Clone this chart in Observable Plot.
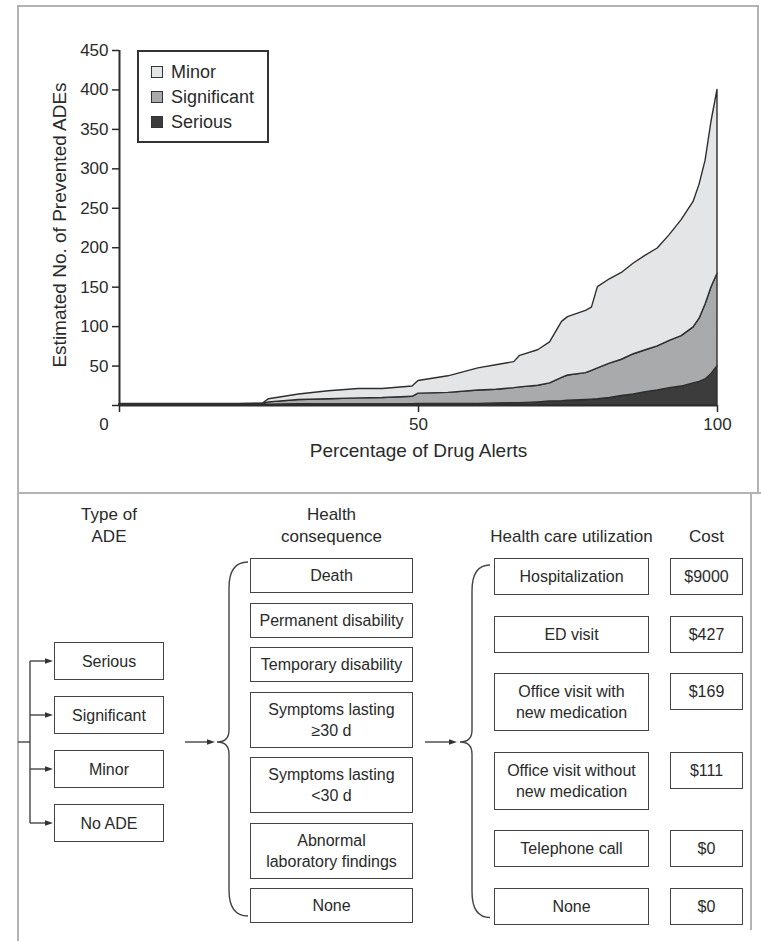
<!DOCTYPE html>
<html><head><meta charset="utf-8">
<script src="https://cdn.jsdelivr.net/npm/d3@7"></script>
<script src="https://cdn.jsdelivr.net/npm/@observablehq/plot@0.6"></script>
<style>
html,body{margin:0;padding:0;background:#fff;}
#page{position:relative;width:761px;height:941px;overflow:hidden;font-family:"Liberation Sans",Arial,sans-serif;color:#2a2a2a;}
.fline{position:absolute;background:#b3b3b3;}
#chart{position:absolute;left:0;top:0;}
#legend{position:absolute;left:137px;top:50px;width:128px;height:89px;border:2px solid #333;background:#fff;}
.lg-row{position:absolute;left:12px;height:20px;display:flex;align-items:center;font-size:18px;white-space:nowrap;}
.lg-sw{width:10px;height:10px;border:1.5px solid #333;margin-right:8px;}
.col{position:absolute;display:flex;flex-direction:column;}
.row{display:flex;flex-direction:column;}
.box{box-sizing:border-box;border:1.8px solid #444;display:flex;align-items:center;justify-content:center;text-align:center;white-space:pre-line;font-size:16px;line-height:21px;background:#fff;}
.hdr{position:absolute;text-align:center;font-size:17px;line-height:22px;white-space:pre-line;}
#links{position:absolute;left:0;top:0;overflow:visible;}
</style></head><body><div id="page"></div>
<script>
// ---------- chart data ----------
const pct = [0,10,20,24,25,30,35,40,44,49,50,55,60,63,66,67,70,72,74,75,78,79,80,82,84,86,88,90,92,94,96,97,98,99,100];
const serious = [1,1,1,1,1,1.5,1.5,1.5,1.5,1.5,2,2,2,2.5,3,3,4,5,5.5,6,7,7.5,8,9.5,12,14,17,19,22,24,28,30,33,40,50];
const significant = [0.5,0.5,0.5,1,3,5.5,6.5,7.5,8,9.5,13,14,17,17.5,19,20,21,23,29.5,32,34,36.5,39,43.5,46,51,53,56,60,64,71,80,95,110,117];
const minor = [0.5,0.5,0.5,0.5,4,7,10,12,11.5,13,16,21,28,31,33,40,45,52,71,74,79,80,103,107,110,115,120,124,134,147,159,170,182,210,233];
const types = ["Serious","Significant","Minor"];
const typeFills = ["#3c3c3c","#a9aaac","#e4e5e7"];
const legendOrder = ["Minor","Significant","Serious"];
const yTicks = [0,50,100,150,200,250,300,350,400,450];
const xTicks = [0,50,100];
const xLabel = "Percentage of Drug Alerts";
const yLabel = "Estimated No. of Prevented ADEs";

// ---------- diagram data ----------
const headers = ["Type of\nADE","Health\nconsequence","Health care utilization","Cost"];
const adeTypes = ["Serious","Significant","Minor","No ADE"];
const consequences = ["Death","Permanent disability","Temporary disability","Symptoms lasting\n≥30 d","Symptoms lasting\n<30 d","Abnormal\nlaboratory findings","None"];
const utilization = ["Hospitalization","ED visit","Office visit with\nnew medication","Office visit without\nnew medication","Telephone call","None"];
const costs = ["$9000","$427","$169","$111","$0","$0"];

const page = document.getElementById("page");

// ---------- frame ----------
[[17,5,741,2],[17,5,2,936],[757,5,2,488],[17,492,744,2],[750,492,2,438]].forEach(([l,t,w,h])=>{
  const d=document.createElement("div");d.className="fline";
  Object.assign(d.style,{left:l+"px",top:t+"px",width:w+"px",height:h+"px"});page.appendChild(d);
});

// ---------- chart ----------
const series = {Serious: serious, Significant: significant, Minor: minor};
const rows = types.flatMap(t => pct.map((p,i)=>({pct:p, type:t, value:series[t][i]})));
const chart = Plot.plot({
  width:761, height:493, marginLeft:119, marginRight:44, marginTop:50, marginBottom:88,
  style:{fontFamily:"'Liberation Sans', Arial, sans-serif", color:"#2a2a2a", background:"transparent", overflow:"visible"},
  x:{domain:[0,100]}, y:{domain:[0,450]},
  color:{domain:types, range:typeFills},
  marks:[
    Plot.areaY(rows,{x:"pct", y:"value", z:"type", fill:"type", stroke:"#2e2e2e", strokeWidth:1.4, order:null}),
    Plot.ruleY([0],{stroke:"#2e2e2e", strokeWidth:2}),
    Plot.ruleX([0],{stroke:"#2e2e2e", strokeWidth:2}),
    Plot.axisY({ticks:yTicks, tickSize:7, tickPadding:4, tickFormat:d=>d===0?"":String(d), label:null, fontSize:17, strokeWidth:1.5}),
    Plot.axisX({ticks:xTicks, tickSize:7, tickPadding:5, tickFormat:d=>d===0?"":String(d), label:null, fontSize:17, strokeWidth:1.5}),
    Plot.text([0],{x:d=>d, y:d=>d, text:d=>String(d), dx:-15.5, dy:19, fontSize:17}),
    Plot.text([yLabel],{frameAnchor:"left", textAnchor:"middle", rotate:-90, dx:-60, dy:-3, fontSize:19, text:d=>d}),
    Plot.text([xLabel],{frameAnchor:"bottom", dy:51, fontSize:19, text:d=>d})
  ]
});
chart.id="chart";
page.appendChild(chart);

// legend
const lg=document.createElement("div");lg.id="legend";page.appendChild(lg);
legendOrder.forEach((t,i)=>{
  const r=document.createElement("div");r.className="lg-row";r.style.top=(10+25*i)+"px";
  const sw=document.createElement("div");sw.className="lg-sw";sw.style.background=typeFills[types.indexOf(t)];
  r.appendChild(sw);r.appendChild(document.createTextNode(t));lg.appendChild(r);
});

// ---------- diagram ----------
const cols = [
  {items:adeTypes, left:54, width:110, top:642, h1:38, h2:38, gap:16},
  {items:consequences, left:250, width:163, top:558, h1:35, h2:56, gap:9.5},
  {items:utilization, left:494, width:155, top:558, h1:37, h2:58, gap:20.5},
  {items:costs, left:670, width:73, top:558, h1:37, h2:37, gap:20.5, rowsFrom:utilization, rowH1:37, rowH2:58}
];
const hdrBottom = 548;
const colBoxes = cols.map((c,ci)=>{
  const h=document.createElement("div");h.className="hdr";
  const nl=headers[ci].split("\n").length;
  Object.assign(h.style,{left:(c.left-30)+"px",width:(c.width+60)+"px",top:(hdrBottom-22*nl)+"px"});
  h.textContent=headers[ci];page.appendChild(h);
  const col=document.createElement("div");col.className="col";
  Object.assign(col.style,{left:c.left+"px",top:c.top+"px",width:c.width+"px",gap:c.gap+"px"});
  page.appendChild(col);
  return c.items.map((label,i)=>{
    const b=document.createElement("div");b.className="box";b.textContent=label;
    const lines=label.split("\n").length;
    b.style.height=(lines>1?c.h2:c.h1)+"px";
    if(c.rowsFrom){
      const row=document.createElement("div");row.className="row";
      row.style.height=(c.rowsFrom[i].split("\n").length>1?c.rowH2:c.rowH1)+"px";
      row.appendChild(b);col.appendChild(row);
    } else col.appendChild(b);
    return b;
  });
});

// connectors
const pr=page.getBoundingClientRect();
const rect=el=>{const r=el.getBoundingClientRect();return {l:r.left-pr.left,r:r.right-pr.left,t:r.top-pr.top,b:r.bottom-pr.top,cy:(r.top+r.bottom)/2-pr.top};};
const A=colBoxes[0].map(rect), B=colBoxes[1].map(rect), C=colBoxes[2].map(rect);
const svg=d3.select(page).append("svg").attr("id","links").attr("width",761).attr("height",941);
const g=svg.append("g").attr("fill","none").attr("stroke","#444").attr("stroke-width",1.4);
const midY=(A[1].b+A[2].t)/2;
const arrow=(x1,x2,y)=>{
  g.append("line").attr("x1",x1).attr("x2",x2-6).attr("y1",y).attr("y2",y);
  g.append("path").attr("d",`M${x2-8},${y-2.8}L${x2},${y}L${x2-8},${y+2.8}Z`).attr("fill","#333").attr("stroke","none");
};
const xTree=A[0].l-24;
g.append("line").attr("x1",xTree).attr("x2",xTree).attr("y1",A[0].cy).attr("y2",A[A.length-1].cy);
g.append("line").attr("x1",18).attr("x2",xTree).attr("y1",midY).attr("y2",midY);
A.forEach(a=>arrow(xTree,a.l-1,a.cy));
const brace=(xe,xs,xt,y1,y2,ym)=>{
  const r=26,r2=12;
  g.append("path").attr("d",`M${xe},${y1}Q${xs},${y1} ${xs},${y1+r}L${xs},${ym-r2}Q${xs},${ym} ${xt},${ym}Q${xs},${ym} ${xs},${ym+r2}L${xs},${y2-r}Q${xs},${y2} ${xe},${y2}`);
};
const bL=B[0].l, cL=C[0].l;
brace(bL-2,bL-21,bL-33,B[0].t+4,B[B.length-1].b-7,midY);
arrow(bL-65,bL-35,midY);
brace(cL-4,cL-22,cL-34,C[0].t+7,C[C.length-1].b-7,midY);
arrow(cL-69,cL-37,midY);
</script></body></html>
